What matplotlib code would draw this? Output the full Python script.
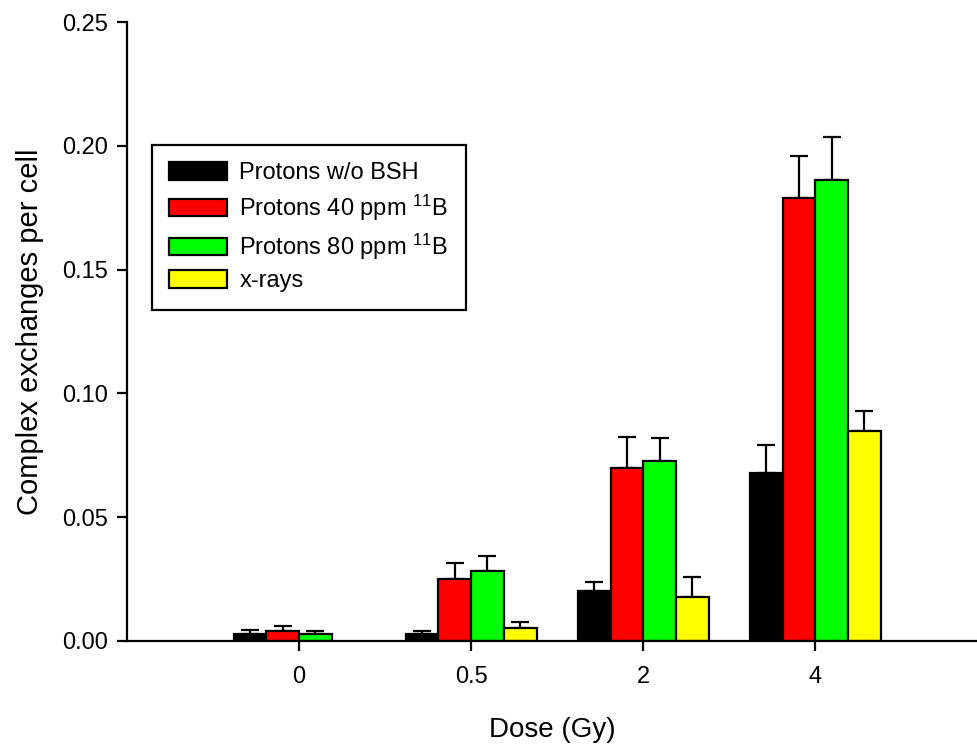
import numpy as np
import matplotlib
matplotlib.use('Agg')
import matplotlib.pyplot as plt

plt.rcParams['font.family'] = ['Liberation Sans', 'DejaVu Sans']
plt.rcParams['mathtext.fontset'] = 'custom'
plt.rcParams['mathtext.rm'] = 'Liberation Sans'
plt.rcParams['mathtext.it'] = 'Liberation Sans'

doses = ['0', '0.5', '2', '4']
series_names = ['Protons w/o BSH', 'Protons 40 ppm $^{11}$B', 'Protons 80 ppm $^{11}$B', 'x-rays']
colors = ['black', '#ff0000', '#00ff00', '#ffff00']

no_bsh = [0.0030, 0.0027, 0.0203, 0.068]
no_bsh_err = [0.0013, 0.0015, 0.0037, 0.0110]
ppm40 = [0.0042, 0.0250, 0.0697, 0.179]
ppm40_err = [0.0020, 0.0065, 0.0128, 0.0170]
ppm80 = [0.0027, 0.0283, 0.0727, 0.186]
ppm80_err = [0.0015, 0.0060, 0.0094, 0.0177]
xrays = [np.nan, 0.0053, 0.0179, 0.085]
xrays_err = [np.nan, 0.0022, 0.0078, 0.0078]

values = [no_bsh, ppm40, ppm80, xrays]
errors = [no_bsh_err, ppm40_err, ppm80_err, xrays_err]

fig = plt.figure(figsize=(9.77, 7.46), dpi=100)
ax = fig.add_axes([0.13, 0.1408, 0.87, 0.8297])

x = np.arange(len(doses))
w = 0.19
for i in range(4):
    pos = x + (i - 1.5) * w
    vals = np.array(values[i])
    errs = np.array(errors[i])
    ax.bar(pos, vals, w, color=colors[i], edgecolor='black', linewidth=1.6,
           label=series_names[i], zorder=2)
    ax.errorbar(pos, vals, yerr=[np.zeros_like(errs), errs], fmt='none',
                ecolor='black', elinewidth=1.6, capsize=6.5, capthick=1.6, zorder=1)

ax.set_xlim(-1.0, 3.94)
ax.set_ylim(0, 0.25)
ax.set_yticks([0, 0.05, 0.10, 0.15, 0.20, 0.25])
ax.set_yticklabels(['0.00', '0.05', '0.10', '0.15', '0.20', '0.25'])
ax.set_xticks(x)
ax.set_xticklabels(doses)
ax.spines['top'].set_visible(False)
ax.spines['right'].set_visible(False)
ax.spines['left'].set_linewidth(1.6)
ax.spines['bottom'].set_linewidth(1.6)
ax.tick_params(axis='both', direction='out', length=7, width=1.6, labelsize=17)
ax.tick_params(axis='x', pad=11)
ax.tick_params(axis='y', pad=7)

ax.set_xlabel('Dose (Gy)', fontsize=20, labelpad=21)
ax.set_ylabel('Complex exchanges per cell', fontsize=21, labelpad=13)

leg = ax.legend(loc='upper left', bbox_to_anchor=(0.029, 0.802), borderaxespad=0,
                fontsize=17, frameon=True, fancybox=False, edgecolor='black',
                framealpha=1, handlelength=2.46, handleheight=0.76,
                labelspacing=0.36, borderpad=0.75, handletextpad=0.5)
leg.get_frame().set_linewidth(1.6)

fig.savefig('out.png', dpi=100)
